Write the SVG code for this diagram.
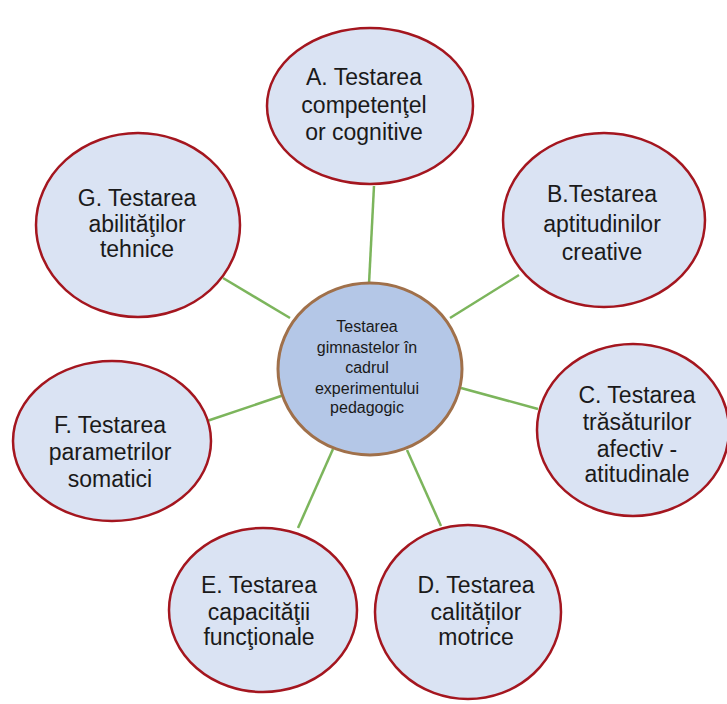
<svg xmlns="http://www.w3.org/2000/svg" width="727" height="704" viewBox="0 0 727 704">
<style>
.outer{fill:#dae3f3;stroke:#a4161f;stroke-width:2.5}
.center{fill:#b4c7e7;stroke:#a0704a;stroke-width:3}
.conn{stroke:#7cb55c;stroke-width:2.5;fill:none}
text{font-family:"Liberation Sans",Arial,sans-serif;fill:#1a1a1a;text-anchor:middle}
.t{font-size:23px}
.c{font-size:16px}
</style>
<rect width="727" height="704" fill="#ffffff"/>
<g id="connectors">
<line class="conn" x1="374" y1="186" x2="369" y2="284"/>
<line class="conn" x1="450" y1="318" x2="519" y2="275"/>
<line class="conn" x1="461" y1="388" x2="538" y2="409"/>
<line class="conn" x1="407" y1="450" x2="441" y2="526"/>
<line class="conn" x1="333" y1="449" x2="298" y2="528"/>
<line class="conn" x1="284" y1="395" x2="207" y2="421"/>
<line class="conn" x1="290" y1="318" x2="223" y2="278"/>
</g>
<g id="nodeA">
<ellipse class="outer" cx="370" cy="106" rx="103" ry="78"/>
<text class="t" x="364" y="85">A. Testarea</text>
<text class="t" x="364" y="113">competenţel</text>
<text class="t" x="364" y="140">or cognitive</text>
</g>
<g id="nodeB">
<ellipse class="outer" cx="604" cy="220" rx="101" ry="87"/>
<text class="t" x="602" y="202">B.Testarea</text>
<text class="t" x="602" y="232">aptitudinilor</text>
<text class="t" x="602" y="260">creative</text>
</g>
<g id="nodeC">
<ellipse class="outer" cx="633" cy="430" rx="96" ry="86"/>
<text class="t" x="637" y="403">C. Testarea</text>
<text class="t" x="637" y="430">trăsăturilor</text>
<text class="t" x="637" y="457">afectiv -</text>
<text class="t" x="637" y="482">atitudinale</text>
</g>
<g id="nodeD">
<ellipse class="outer" cx="468" cy="612" rx="93" ry="87"/>
<text class="t" x="476" y="593">D. Testarea</text>
<text class="t" x="476" y="620">calităților</text>
<text class="t" x="476" y="645">motrice</text>
</g>
<g id="nodeE">
<ellipse class="outer" cx="263" cy="610" rx="94" ry="82"/>
<text class="t" x="259" y="593">E. Testarea</text>
<text class="t" x="259" y="620">capacităţii</text>
<text class="t" x="259" y="645">funcţionale</text>
</g>
<g id="nodeF">
<ellipse class="outer" cx="112" cy="441" rx="99" ry="80"/>
<text class="t" x="110" y="433">F. Testarea</text>
<text class="t" x="110" y="460">parametrilor</text>
<text class="t" x="110" y="487">somatici</text>
</g>
<g id="nodeG">
<ellipse class="outer" cx="138" cy="225" rx="102" ry="92"/>
<text class="t" x="137" y="206">G. Testarea</text>
<text class="t" x="137" y="232">abilităţilor</text>
<text class="t" x="137" y="257">tehnice</text>
</g>
<g id="nodeCenter">
<ellipse class="center" cx="370" cy="369" rx="92" ry="86"/>
<text class="c" x="367" y="332">Testarea</text>
<text class="c" x="367" y="353">gimnastelor în</text>
<text class="c" x="367" y="373">cadrul</text>
<text class="c" x="367" y="394">experimentului</text>
<text class="c" x="367" y="413">pedagogic</text>
</g>
</svg>
